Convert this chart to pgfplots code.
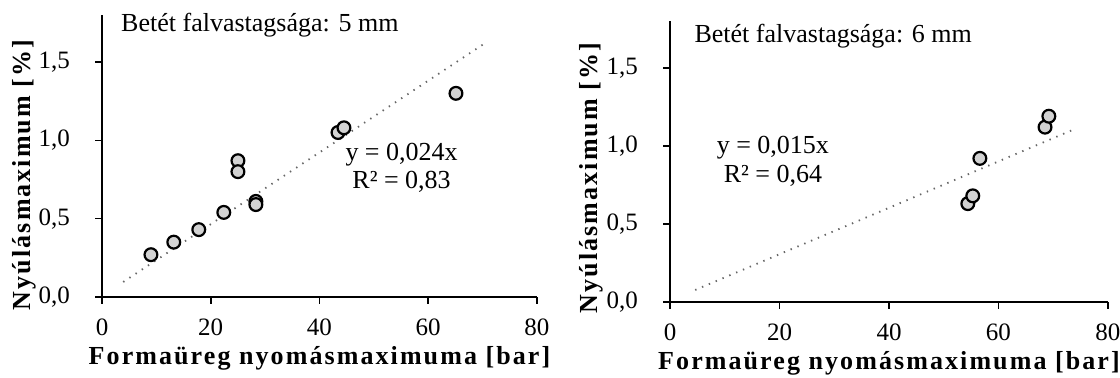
\documentclass[border=0pt]{standalone}
\usepackage{fontspec}
\setmainfont{Liberation Serif}
\newfontfamily\labfont[LetterSpace=8]{Liberation Serif}
\usepackage{pgfplots}
\pgfplotsset{compat=1.18}
\pgfplotsset{
 mystyle/.style={
  scale only axis,
  axis lines=left,
  axis line style={-, line width=1.1pt},
  xmin=0,xmax=80,ymin=0,ymax=1.8,
  xtick={0,20,...,80},
  ytick={0,0.5,1,1.5},
  tick align=outside,
  major tick length=3.5pt,
  tick style={black, line width=0.8pt},
  /pgf/number format/assume math mode=true,
  ticklabel style={font=\fontsize{12.5}{14}\selectfont},
  yticklabel style={/pgf/number format/.cd, fixed, fixed zerofill, precision=1, use comma, /tikz/.cd, xshift=-9pt},
  xticklabel style={/pgf/number format/.cd, fixed, precision=0, /tikz/.cd, yshift=-4pt},
  xlabel={\labfont\bfseries Formaüreg nyomásmaximuma [bar]},
  ylabel={\labfont\bfseries Nyúlásmaximum [\%]},
  label style={font=\fontsize{13}{15}\selectfont},
  clip=false,
 },
 pts/.style={only marks, mark=*, mark size=3.2pt, mark options={fill=gray!35, draw=black, line width=1.1pt}},
 trend/.style={gray!80!black, line width=0.9pt, dash pattern=on 0.7pt off 3pt},
}
\begin{document}
\begin{tikzpicture}
\useasboundingbox (0pt,0pt) rectangle (560pt,189pt);
\begin{axis}[mystyle, at={(51pt,40.5pt)}, anchor=south west, width=217.5pt, height=141pt,
  xlabel style={at={(axis description cs:0.5,0)}, anchor=center, yshift=-30.5pt},
  ylabel style={at={(axis description cs:-0.179,0.433)}, anchor=center, rotate=0}]
\addplot[trend] coordinates {(3.9,0.096) (70,1.61)};
\addplot[pts] coordinates {(9.0,0.27) (13.2,0.35) (17.8,0.43) (22.4,0.54) (25.0,0.87) (25.0,0.80) (28.3,0.61) (28.3,0.59) (43.4,1.05) (44.5,1.08) (65.1,1.30)};
\node[anchor=base west, font=\fontsize{13}{15}\selectfont] at (axis description cs:0.028,0.94) {Betét falvastagsága: 5 mm};
\node[font=\fontsize{13}{15}\selectfont] at (axis cs:55.1,0.906) {y = 0,024x};
\node[font=\fontsize{13}{15}\selectfont] at (axis cs:55.1,0.734) {R² = 0,83};
\end{axis}
\begin{axis}[mystyle, at={(335pt,38pt)}, anchor=south west, width=219pt, height=140.5pt,
  xlabel style={at={(axis description cs:0.5,0)}, anchor=center, yshift=-30.5pt},
  ylabel style={at={(axis description cs:-0.18,0.441)}, anchor=center, rotate=0}]
\addplot[trend] coordinates {(4.6,0.077) (73.4,1.10)};
\addplot[pts] coordinates {(54.4,0.63) (55.3,0.68) (56.6,0.92) (68.5,1.12) (69.2,1.19)};
\node[anchor=base west, font=\fontsize{13}{15}\selectfont] at (axis description cs:0.04,0.922) {Betét falvastagsága: 6 mm};
\node[font=\fontsize{13}{15}\selectfont] at (axis cs:18.8,0.99) {y = 0,015x};
\node[font=\fontsize{13}{15}\selectfont] at (axis cs:18.8,0.81) {R² = 0,64};
\end{axis}
\end{tikzpicture}
\end{document}
